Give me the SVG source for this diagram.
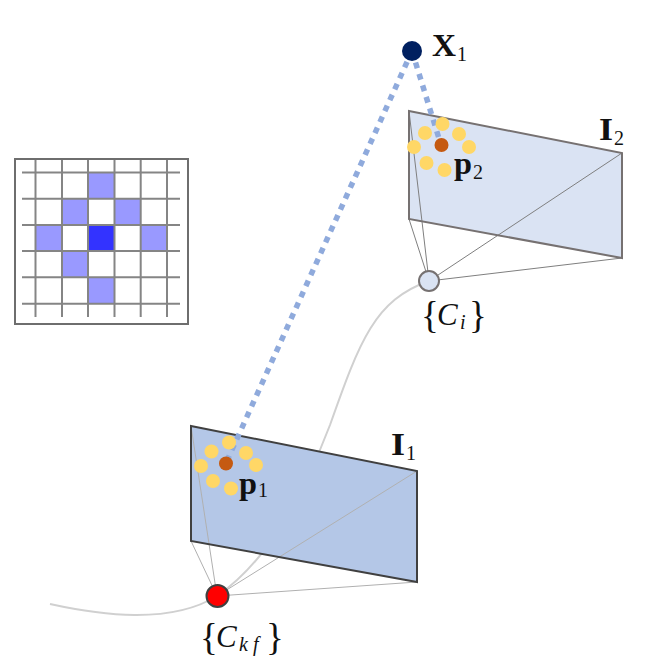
<svg xmlns="http://www.w3.org/2000/svg" width="654" height="667" viewBox="0 0 654 667">
<style>
text{font-family:"Liberation Serif","DejaVu Serif",serif;fill:#111}
.b{font-weight:bold;font-size:31px}
.s{font-size:20px}
.m{font-size:31px}
.br{font-size:37px}
.i{font-style:italic}
.g{stroke:#858585;stroke-width:2;fill:none}
.c{fill:#99f}
.y{fill:#ffd766}
.o{fill:#c55a11}
.ray{stroke:#8faadc;stroke-width:5.500;stroke-dasharray:6 6;fill:none}
.traj{stroke:#d0d0d0;stroke-width:2;fill:none}
</style>
<rect width="654" height="667" fill="#fff"/>
<g id="patch-grid">
<rect class="c" x="88" y="172.5" width="26.5" height="26.2"/>
<rect class="c" x="62" y="198.7" width="26" height="26.3"/>
<rect class="c" x="114.5" y="198.7" width="26.2" height="26.3"/>
<rect class="c" x="35.5" y="225" width="26.5" height="26"/>
<rect x="88" y="225" width="26.5" height="26" fill="#33f"/>
<rect class="c" x="140.7" y="225" width="26.3" height="26"/>
<rect class="c" x="62" y="251" width="26" height="26.3"/>
<rect class="c" x="88" y="277.3" width="26.5" height="26.4"/>
<path class="g" d="M35.5 159V317M62 159V317M88 159V317M114.5 159V317M140.7 159V317M167 159V317M22 172.5H180M22 198.7H180M22 225H180M22 251H180M22 277.3H180M22 303.7H180"/>
<rect x="15" y="159" width="173" height="165" fill="none" stroke="#6e6e6e" stroke-width="2"/>
</g>
<g id="connectors">
<path class="traj" d="M50 604C100 615 170 625 217 596C270 560 305 490 330 425C360 340 375 300 429 281"/>
</g>
<g id="image-I1">
<path d="M191 426L417 471V582L191 541Z" fill="#b4c7e7"/>
<path d="M191 426L217 596M191 541L217 596M417 471L217 596M417 582L217 596" stroke="#b0b0b0" stroke-width="1" fill="none"/>
<path d="M191 426L417 471V582L191 541Z" fill="none" stroke="#404040" stroke-width="2"/>
</g>
<g id="image-I2">
<path d="M409 111L622 153V258L409 219Z" fill="#dae3f3"/>
<path d="M409 111L429 281M409 219L429 281M622 153L429 281M622 258L429 281" stroke="#7f7f7f" stroke-width="1" fill="none"/>
<path d="M409 111L622 153V258L409 219Z" fill="none" stroke="#767171" stroke-width="2"/>
</g>
<g id="rays">
<path class="ray" d="M412 51L226 463"/>
<path class="ray" d="M412 51L441 145"/>
</g>
<g id="p1-features">
<circle class="y" cx="229" cy="442.500" r="7"/><circle class="y" cx="211.500" cy="451.500" r="7"/><circle class="y" cx="246" cy="453" r="7"/><circle class="y" cx="201" cy="466" r="7"/><circle class="y" cx="256" cy="465" r="7"/><circle class="y" cx="213" cy="481" r="7"/><circle class="y" cx="231" cy="488.500" r="7"/>
<circle class="o" cx="226" cy="463.500" r="7"/>
</g>
<g id="p2-features">
<circle class="y" cx="442.500" cy="124" r="7"/><circle class="y" cx="425" cy="133" r="7"/><circle class="y" cx="459" cy="134" r="7"/><circle class="y" cx="414" cy="147" r="7"/><circle class="y" cx="469" cy="147" r="7"/><circle class="y" cx="426.500" cy="163" r="7"/><circle class="y" cx="444.500" cy="170" r="7"/>
<circle class="o" cx="441.500" cy="145" r="7"/>
</g>
<g id="node-X1"><circle cx="412" cy="51" r="10" fill="#002060"/>
<text class="b" x="432" y="56" textLength="24" lengthAdjust="spacingAndGlyphs">X</text><text class="s" x="457" y="61">1</text></g>
<g id="label-I2"><text class="b" x="599" y="140" textLength="14" lengthAdjust="spacingAndGlyphs">I</text><text class="s" x="614" y="145">2</text></g>
<g id="label-p2"><text class="b" x="454" y="174" textLength="18" lengthAdjust="spacingAndGlyphs">p</text><text class="s" x="473" y="179">2</text></g>
<g id="label-I1"><text class="b" x="391" y="455" textLength="14" lengthAdjust="spacingAndGlyphs">I</text><text class="s" x="406" y="460">1</text></g>
<g id="label-p1"><text class="b" x="239" y="494" textLength="18" lengthAdjust="spacingAndGlyphs">p</text><text class="s" x="258" y="497">1</text></g>
<g id="node-Ci"><circle cx="429" cy="281" r="10" fill="#dae3f3" stroke="#767171" stroke-width="2"/>
<text class="br" x="421" y="328">{</text><text class="m i" x="437" y="325">C</text><text class="s i" x="460" y="329">i</text><text class="br" x="469" y="328">}</text></g>
<g id="node-Ckf"><circle cx="217.500" cy="596" r="11" fill="#f00" stroke="#404040" stroke-width="2"/>
<text class="br" x="200" y="650">{</text><text class="m i" x="216" y="647">C</text><text class="s i" x="239" y="651">k</text><text class="s i" x="253" y="651">f</text><text class="br" x="266" y="650">}</text></g>
</svg>
